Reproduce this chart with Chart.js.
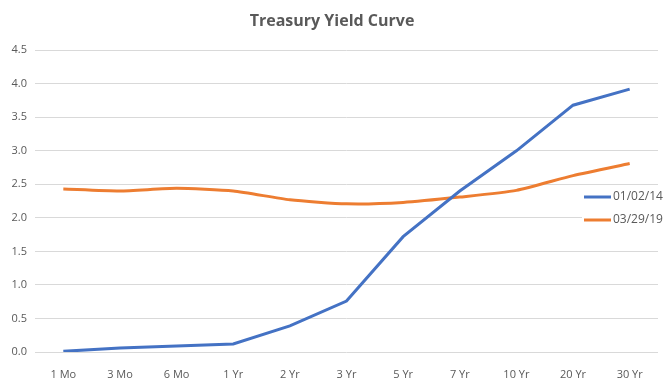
<!DOCTYPE html>
<html>
<head>
<meta charset="utf-8">
<script src="https://cdn.jsdelivr.net/npm/chart.js@4/dist/chart.umd.min.js"></script>
<style>
  html, body { margin: 0; padding: 0; background: #fff; }
  #wrap { width: 672px; height: 384px; position: relative; }
</style>
</head>
<body>
<div id="wrap"><canvas id="yieldChart"></canvas></div>
<script>
// chart data
const maturities = ['1 Mo', '3 Mo', '6 Mo', '1 Yr', '2 Yr', '3 Yr', '5 Yr', '7 Yr', '10 Yr', '20 Yr', '30 Yr'];
const yields2014 = [0.01, 0.06, 0.09, 0.12, 0.39, 0.76, 1.72, 2.40, 3.00, 3.68, 3.92];
const yields2019 = [2.43, 2.40, 2.44, 2.40, 2.27, 2.21, 2.23, 2.31, 2.41, 2.63, 2.81];
const seriesLabels = ['01/02/14', '03/29/19'];
const yTicks = [0, 0.5, 1, 1.5, 2, 2.5, 3, 3.5, 4, 4.5];

const textColor = '#595959';
const gridColor = '#d9d9d9';
const fontFamily = "'Open Sans', 'Liberation Sans', sans-serif";

// legend drawn on top of the plot, right side, like the original
const overlayLegend = {
    id: 'overlayLegend',
    afterDraw(chart) {
        const ctx = chart.ctx;
        const x0 = 584, rows = [197, 220];
        ctx.save();
        ctx.font = '12px ' + fontFamily;
        ctx.textBaseline = 'middle';
        chart.data.datasets.forEach((ds, i) => {
            const y = rows[i];
            ctx.fillStyle = '#fff';
            ctx.fillRect(x0 - 2, y - 8, 80, 16);
            ctx.strokeStyle = ds.borderColor;
            ctx.lineWidth = 3;
            ctx.beginPath();
            ctx.moveTo(x0, y);
            ctx.lineTo(x0 + 27, y);
            ctx.stroke();
            ctx.fillStyle = textColor;
            ctx.fillText(ds.label, x0 + 29, y);
        });
        ctx.restore();
    }
};

new Chart(document.getElementById('yieldChart'), {
    type: 'line',
    data: {
        labels: maturities,
        datasets: [
            {
                label: seriesLabels[0],
                data: yields2014,
                borderColor: '#4472c4',
                backgroundColor: '#4472c4',
                borderWidth: 3,
                pointRadius: 0,
                tension: 0
            },
            {
                label: seriesLabels[1],
                data: yields2019,
                borderColor: '#ed7d31',
                backgroundColor: '#ed7d31',
                borderWidth: 3,
                pointRadius: 0,
                tension: 0.2
            }
        ]
    },
    options: {
        responsive: true,
        maintainAspectRatio: false,
        animation: false,
        layout: { padding: { left: 6, right: 14, top: 0, bottom: 0 } },
        plugins: {
            legend: { display: false },
            tooltip: { enabled: false },
            title: {
                display: true,
                text: 'Treasury Yield Curve',
                color: textColor,
                font: { family: fontFamily, size: 16, weight: 'bold' },
                padding: { top: 12, bottom: 19 }
            }
        },
        scales: {
            x: {
                offset: true,
                grid: { display: false },
                border: { display: false },
                ticks: { color: textColor, font: { family: fontFamily, size: 11 }, maxRotation: 0, padding: 8 },
                afterFit(scale) { scale.height = 32; }
            },
            y: {
                min: 0,
                max: 4.5,
                afterBuildTicks(scale) { scale.ticks = yTicks.map(v => ({ value: v })); },
                grid: { color: gridColor, lineWidth: 1, drawTicks: false },
                border: { display: false },
                ticks: {
                    color: textColor,
                    font: { family: fontFamily, size: 11 },
                    padding: 8,
                    callback: v => Number(v).toFixed(1)
                },
                afterFit(scale) { scale.width = 29; }
            }
        }
    },
    plugins: [overlayLegend]
});
</script>
</body>
</html>
